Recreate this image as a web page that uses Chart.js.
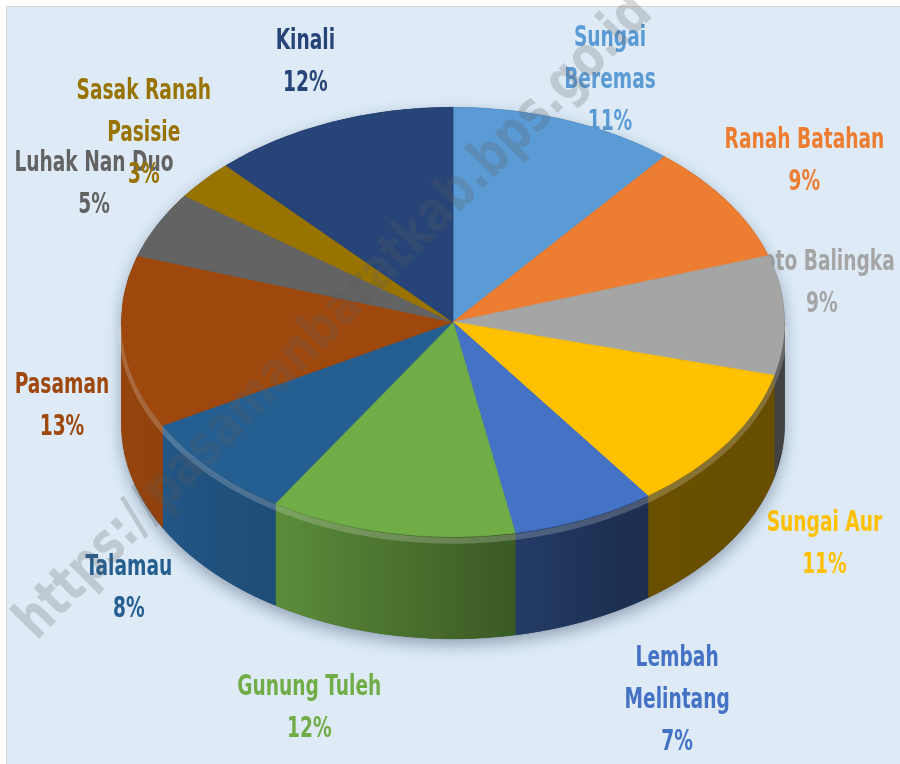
<!DOCTYPE html>
<html>
<head>
<meta charset="utf-8">
<script src="https://cdn.jsdelivr.net/npm/chart.js@4.4.1/dist/chart.umd.min.js"></script>
<style>
  body { margin: 0; background: #fff; }
  #wrap { position: relative; width: 900px; height: 764px; }
</style>
</head>
<body>
<div id="wrap"><canvas id="chart"></canvas></div>
<script>
// Persentase per kecamatan (Pasaman Barat)
const kecamatan = [['Sungai', 'Beremas'], 'Ranah Batahan', 'Koto Balingka', 'Sungai Aur', ['Lembah', 'Melintang'],
    'Gunung Tuleh', 'Talamau', 'Pasaman', 'Luhak Nan Duo', ['Sasak Ranah', 'Pasisie'], 'Kinali'];
const persen = [11, 9, 9, 11, 7, 12, 8, 13, 5, 3, 12];
const warna = ['#5B9BD5', '#ED7D31', '#A5A5A5', '#FFC000', '#4472C4', '#70AD47',
    '#255E91', '#9E480E', '#636363', '#997300', '#264478'];

// layout of the fake 3D pie
const TILT = 215 / 332;     // vertical squash of the top face
const DEPTH = 102;          // thickness of the pie
const CENTER_Y = 322;       // where the top face is drawn
const LABEL_R = 1.3;        // labels sit outside the rim
const LINE_H = 42;
const FONT = '"Liberation Sans Narrow", "DejaVu Sans Condensed", sans-serif';
// small nudges [dx, dy] so labels land where Excel put them
const labelNudge = [[11, 21], [-5, -4], [-62, -30], [15, 8], [53, 29], [-63, 12],
    [-10, 6], [38, 49], [25, -11], [14, -4], [11, 0]];
// side wall shading, left -> right
const sideStops = [[0, 0.95], [0.25, 0.8], [0.55, 0.55], [0.75, 0.42], [1, 0.4]];

function shade(hex, f) {
    const n = parseInt(hex.slice(1), 16);
    const r = Math.round(((n >> 16) & 255) * f);
    const g = Math.round(((n >> 8) & 255) * f);
    const b = Math.round((n & 255) * f);
    return `rgb(${r},${g},${b})`;
}

const pie3d = {
    id: 'pie3d',
    beforeDraw(chart) {
        const ctx = chart.ctx;
        ctx.save();
        ctx.fillStyle = '#ffffff';
        ctx.fillRect(0, 0, chart.width, chart.height);
        ctx.fillStyle = '#DEEBF7';
        ctx.fillRect(7, 7, chart.width - 7, chart.height - 7);
        ctx.strokeStyle = '#D4D4D4';
        ctx.lineWidth = 1;
        ctx.strokeRect(6.5, 6.5, chart.width, chart.height);
        ctx.restore();
    },
    beforeDatasetsDraw(chart) {
        const ctx = chart.ctx;
        const arcs = chart.getDatasetMeta(0).data;
        const cx = arcs[0].x, cy = arcs[0].y, R = arcs[0].outerRadius;
        const ry = R * TILT;
        const pt = (a, dy) => [cx + R * Math.cos(a), CENTER_Y + ry * Math.sin(a) + dy];
        const total = persen.reduce((s, v) => s + v, 0);

        // labels first, the pie covers them where they touch
        ctx.save();
        ctx.font = 'bold 23px ' + FONT;
        ctx.textAlign = 'center';
        ctx.textBaseline = 'middle';
        arcs.forEach((arc, i) => {
            const mid = (arc.startAngle + arc.endAngle) / 2;
            const s = Math.sin(mid);
            const x = cx + LABEL_R * R * Math.cos(mid) + labelNudge[i][0];
            const y = CENTER_Y + LABEL_R * ry * s + DEPTH * Math.max(0, s) + labelNudge[i][1];
            const lines = [].concat(kecamatan[i], Math.round(persen[i] / total * 100) + '%');
            ctx.fillStyle = warna[i];
            lines.forEach((t, j) => {
                const ly = y + (j - (lines.length - 1) / 2) * LINE_H;
                ctx.save();
                ctx.translate(x, ly);
                ctx.scale(0.9, 1.25);
                ctx.fillText(t, 0, 0);
                ctx.restore();
            });
        });
        ctx.restore();

        // soft shadow under the whole pie
        ctx.save();
        ctx.shadowColor = 'rgba(50,70,100,0.45)';
        ctx.shadowBlur = 16;
        ctx.shadowOffsetY = 6;
        ctx.fillStyle = '#333';
        ctx.beginPath();
        for (let k = 0; k <= 180; k++) {
            const [x, y] = pt(Math.PI * k / 180, DEPTH);
            k ? ctx.lineTo(x, y) : ctx.moveTo(x, y);
        }
        for (let k = 180; k <= 360; k++) {
            const [x, y] = pt(Math.PI * k / 180, 0);
            ctx.lineTo(x, y);
        }
        ctx.closePath();
        ctx.fill();
        ctx.restore();

        // side walls of the front half
        arcs.forEach((arc, i) => {
            const a0 = Math.max(arc.startAngle, 0);
            const a1 = Math.min(arc.endAngle, Math.PI);
            if (a1 <= a0) return;
            const g = ctx.createLinearGradient(cx - R, 0, cx + R, 0);
            sideStops.forEach(([p, f]) => g.addColorStop(p, shade(warna[i], f)));
            const n = Math.max(2, Math.ceil((a1 - a0) * 90));
            ctx.beginPath();
            for (let k = 0; k <= n; k++) {
                const [x, y] = pt(a0 + (a1 - a0) * k / n, 0);
                k ? ctx.lineTo(x, y) : ctx.moveTo(x, y);
            }
            for (let k = n; k >= 0; k--) {
                const [x, y] = pt(a0 + (a1 - a0) * k / n, DEPTH);
                ctx.lineTo(x, y);
            }
            ctx.closePath();
            ctx.fillStyle = g;
            ctx.fill();
            ctx.strokeStyle = g;
            ctx.lineWidth = 0.8;
            ctx.stroke();
        });

        // light bevel along the front rim
        ctx.save();
        ctx.beginPath();
        for (let k = 0; k <= 180; k++) {
            const [x, y] = pt(Math.PI * k / 180, 4);
            k ? ctx.lineTo(x, y) : ctx.moveTo(x, y);
        }
        ctx.strokeStyle = 'rgba(255,255,255,0.2)';
        ctx.lineWidth = 6;
        ctx.stroke();
        ctx.restore();

        // squash the top face Chart.js draws next
        ctx.save();
        ctx.translate(cx, CENTER_Y);
        ctx.scale(1, TILT);
        ctx.translate(-cx, -cy);
    },
    afterDatasetsDraw(chart) {
        chart.ctx.restore();
    },
    afterDraw(chart) {
        // watermark
        const ctx = chart.ctx;
        const text = 'https://pasamanbaratkab.bps.go.id';
        ctx.save();
        ctx.font = 'bold 56px ' + FONT;
        const sx = 880 / ctx.measureText(text).width;
        ctx.translate(335, 318);
        ctx.rotate(-45.4 * Math.PI / 180);
        ctx.scale(sx, 1);
        ctx.textAlign = 'center';
        ctx.textBaseline = 'middle';
        ctx.fillStyle = 'rgba(90,90,90,0.24)';
        ctx.fillText(text, 0, 0);
        ctx.restore();
    }
};

new Chart(document.getElementById('chart'), {
    type: 'pie',
    data: {
        labels: kecamatan,
        datasets: [{
            data: persen,
            backgroundColor: warna,
            borderColor: warna,
            borderWidth: 1,
            hoverOffset: 0
        }]
    },
    options: {
        responsive: true,
        maintainAspectRatio: false,
        animation: false,
        events: [],
        layout: { padding: { left: 121, right: 115, top: 50, bottom: 50 } },
        plugins: {
            legend: { display: false },
            tooltip: { enabled: false }
        }
    },
    plugins: [pie3d]
});
</script>
</body>
</html>
